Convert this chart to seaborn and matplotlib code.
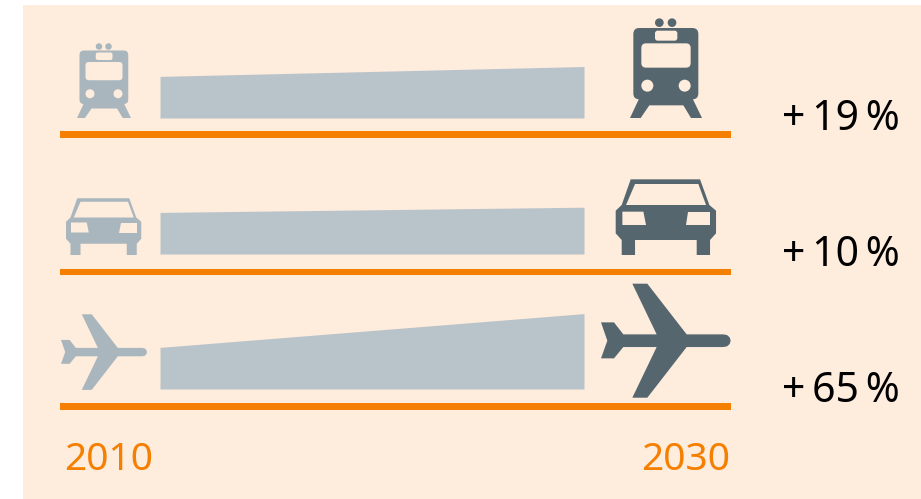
import matplotlib
matplotlib.use("Agg")
import matplotlib.pyplot as plt
import seaborn as sns
from matplotlib.patches import Polygon, Circle, FancyBboxPatch, Rectangle

# Passenger transport growth by mode, 2010 to 2030
modes = ["Bahn", "Auto", "Flugzeug"]
growth_pct = [19, 10, 65]
years = [2010, 2030]
start_index = 100

growth_labels = [f"+\u2009{g}\u2009%" for g in growth_pct]

W, H = 921, 499
PEACH = "#FEECDD"
ORANGE = "#F57F00"
BAND = "#B9C3CA"
LIGHT = "#A9B6BD"
DARK = "#56666E"
FONT = ["Noto Sans", "DejaVu Sans"]

baselines = [118, 254, 389]
rule_rows = [(131, 138), (269, 275), (403, 410)]
label_rows = [130, 266, 401.5]
BAND_LEFT, BAND_RIGHT = 160, 584
INDEX_FLOOR = 20
PX_PER_INDEX = 0.52

sns.set_theme(style="white")
fig = plt.figure(figsize=(W / 100, H / 100), dpi=100, facecolor="white")

canvas = fig.add_axes([0, 0, 1, 1])
canvas.set_xlim(0, W)
canvas.set_ylim(H, 0)
canvas.axis("off")
canvas.add_patch(Rectangle((23, 5), W - 23, H - 5, color=PEACH, lw=0))


def placer(x0, y0, s, ox, oy):
    """Return a mapper from icon units to canvas pixels."""
    return lambda p: (x0 + (p[0] - ox) * s, y0 + (p[1] - oy) * s)


def draw_train(x0, y0, s, color):
    # icon units are thirds of a pixel at full size, anchored at the left rail foot
    m = placer(x0, y0, s / 3, 120, 354)
    k = s / 3
    legs = [(150, 290), (120, 354), (152, 354), (178, 316), (280, 316),
            (303, 354), (336, 354), (305, 290)]
    canvas.add_patch(Polygon([m(p) for p in legs], color=color, lw=0))
    bx, by = m((130, 84))
    canvas.add_patch(FancyBboxPatch((bx + 18 * k, by + 18 * k), 159 * k, 178 * k,
                                    boxstyle=f"round,pad={18 * k},rounding_size={18 * k}",
                                    color=color, lw=0))
    for cx in (208, 246):
        canvas.add_patch(Circle(m((cx, 68)), 13 * k, color=color, lw=0))
    for (x, y, w, h, r) in [(195, 92, 67, 30, 8), (154, 130, 148, 73, 14)]:
        qx, qy = m((x + r, y + r))
        canvas.add_patch(FancyBboxPatch((qx, qy), (w - 2 * r) * k, (h - 2 * r) * k,
                                        boxstyle=f"round,pad={r * k},rounding_size={r * k}",
                                        color=PEACH, lw=0))
    for cx in (172, 284):
        canvas.add_patch(Circle(m((cx, 257)), 18 * k, color=PEACH, lw=0))


def draw_car(x0, y0, s, color):
    m = placer(x0, y0, s / 3, 77, 255)
    shell = [(122, 28), (330, 28), (358, 105), (378, 122), (378, 190), (360, 210),
             (360, 255), (320, 255), (320, 210), (135, 210), (135, 255), (95, 255),
             (95, 210), (77, 190), (77, 122), (95, 105)]
    canvas.add_patch(Polygon([m(p) for p in shell], color=color, lw=0))
    openings = [[(135, 42), (325, 42), (348, 105), (108, 105)],
                [(97, 125), (160, 125), (168, 165), (97, 165)],
                [(295, 125), (360, 125), (360, 165), (288, 165)]]
    for hole in openings:
        canvas.add_patch(Polygon([m(p) for p in hole], color=PEACH, lw=0))


def draw_plane(x0, y0, s, color):
    m = placer(x0, y0, s / 3, 33, 26)
    outline = [(127, 26), (172, 26), (290, 178), (400, 178), (411, 180), (419, 187),
               (422, 197), (419, 207), (411, 214), (400, 216), (290, 216), (172, 368),
               (127, 368), (200, 216), (100, 216), (72, 250), (33, 250), (52, 197),
               (33, 142), (72, 142), (100, 178), (200, 178)]
    canvas.add_patch(Polygon([m(p) for p in outline], color=color, lw=0))


draw_train(77, 118, 0.75, LIGHT)
draw_train(630, 118, 1.0, DARK)
draw_car(66, 255, 0.75, LIGHT)
draw_car(615.7, 255, 1.0, DARK)
draw_plane(61, 314.3, 0.663, LIGHT)
draw_plane(601, 283.7, 1.0, DARK)

for top, bottom in rule_rows:
    canvas.add_patch(Rectangle((60, top), 671, bottom - top, color=ORANGE, lw=0))

# Growth wedges: one axes per mode, sharing the truncated index scale
for mode, g, base in zip(modes, growth_pct, baselines):
    ax_h = 90
    ax = fig.add_axes([BAND_LEFT / W, 1 - base / H, (BAND_RIGHT - BAND_LEFT) / W, ax_h / H])
    ax.patch.set_alpha(0)
    values = [start_index, start_index + g]
    sns.lineplot(x=years, y=values, ax=ax, color=BAND, lw=0, legend=False)
    ax.fill_between(years, INDEX_FLOOR, values, color=BAND, lw=0)
    ax.set_xlim(years[0], years[1])
    ax.set_ylim(INDEX_FLOOR, INDEX_FLOOR + ax_h / PX_PER_INDEX)
    ax.axis("off")

for label, y in zip(growth_labels, label_rows):
    canvas.text(900, y, label, ha="right", va="baseline", fontsize=29.5,
                color="black", family=FONT, weight=500)

canvas.text(64, 470.5, str(years[0]), ha="left", va="baseline", fontsize=28,
            color=ORANGE, family=FONT, weight=500)
canvas.text(730, 470.5, str(years[1]), ha="right", va="baseline", fontsize=28,
            color=ORANGE, family=FONT, weight=500)

fig.savefig("out.png", dpi=100, facecolor="white")
